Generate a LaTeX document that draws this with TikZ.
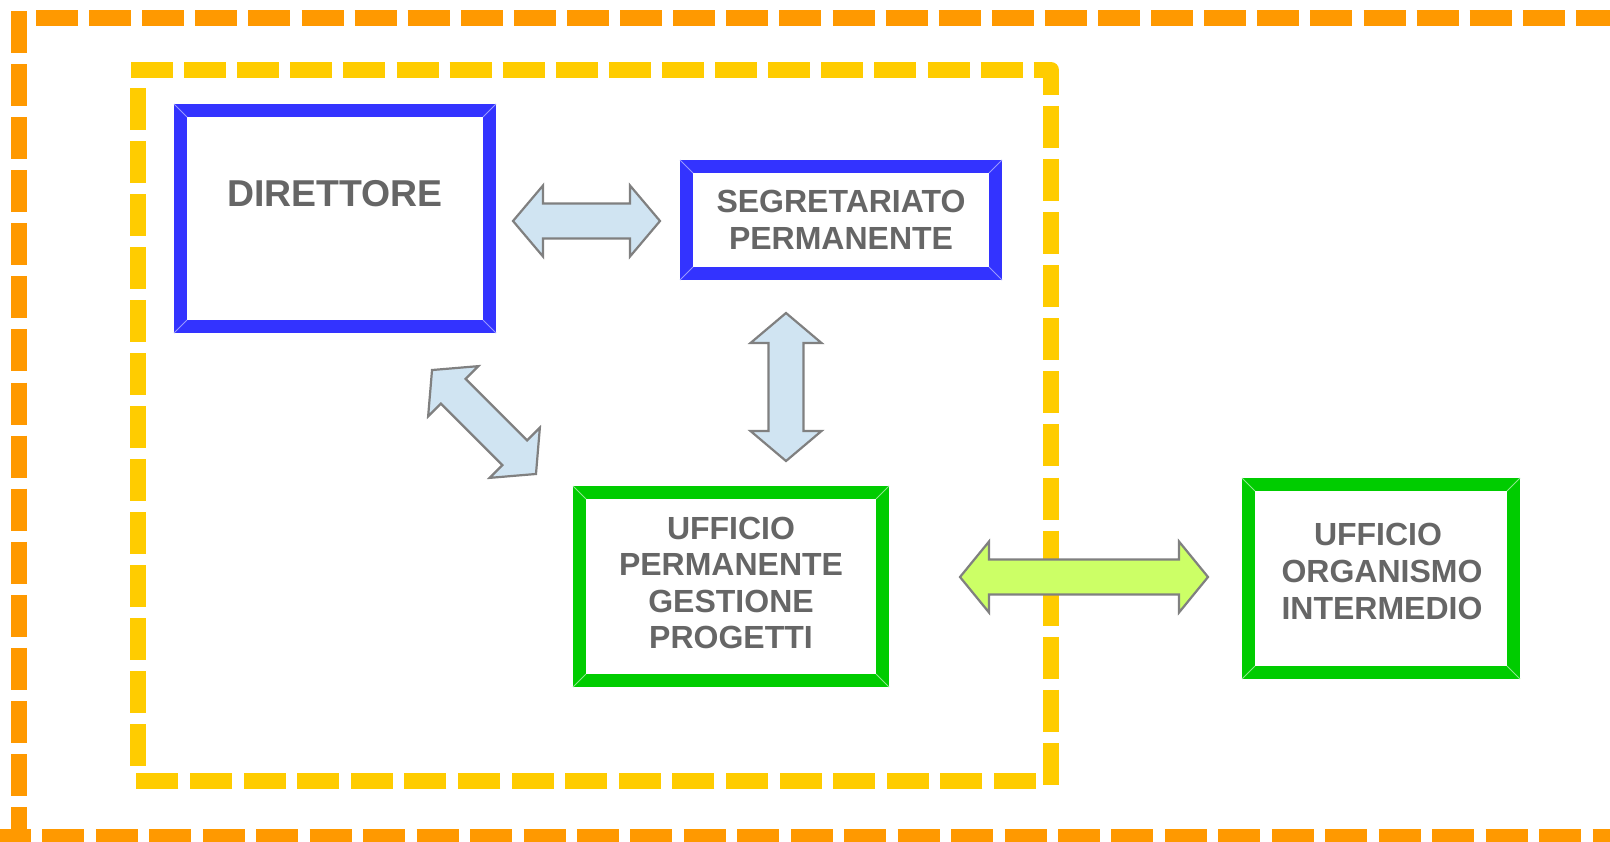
\documentclass[tikz,border=0pt]{standalone}
\usepackage{fontspec}
\setmainfont{Liberation Sans}
\usetikzlibrary{calc}
\definecolor{orangeD}{HTML}{FF9900}
\definecolor{yellowD}{HTML}{FFCC00}
\definecolor{blueB}{HTML}{3333FF}
\definecolor{greenB}{HTML}{00CC00}
\definecolor{txtgray}{HTML}{666666}
\definecolor{arrblue}{HTML}{D0E4F2}
\definecolor{arrgreen}{HTML}{CCFF66}
\definecolor{arredge}{HTML}{808080}
\tikzset{
  orangeline/.style={draw=orangeD, line width=8pt, line cap=butt},
  yellowline/.style={draw=yellowD, line width=8pt, line cap=butt},
  box/.style={draw, line width=6.5pt, fill=white, inner sep=0pt},
  bluebox/.style={box, draw=blueB},
  greenbox/.style={box, draw=greenB},
  bevelblue/.style={draw=blueB!50!white, line width=0.5pt},
  bevelgreen/.style={draw=greenB!45!white, line width=0.5pt},
  lbl/.style={font=\bfseries\fontsize{16pt}{18.3pt}\selectfont, text=txtgray, align=center, inner sep=0pt},
  arrowline/.style={draw=arredge, line width=1.1pt, line join=miter},
  pics/dblarr/.style args={#1/#2/#3}{code={
    \filldraw[arrowline, fill=#3] (-#1,0) -- ({-#1+#2},-35.5) -- ({-#1+#2},-17.5)
      -- ({#1-#2},-17.5) -- ({#1-#2},-35.5) -- (#1,0) -- ({#1-#2},35.5)
      -- ({#1-#2},17.5) -- ({-#1+#2},17.5) -- ({-#1+#2},35.5) -- cycle;
  }}
}
\begin{document}
\begin{tikzpicture}[x=0.5pt, y=-0.5pt]
\useasboundingbox (0,0) rectangle (1610,841);
\fill[white] (0,0) rectangle (1610,841);

% outer orange dashed frame
\begin{scope}
\clip (0,0) rectangle (1610,841);
\draw[orangeline, dash pattern=on 21pt off 5.55pt] (36,18) -- (1630,18);
\draw[orangeline, dash pattern=on 21pt off 5.54pt] (19,11) -- (19,860);
\draw[orangeline, dash pattern=on 21pt off 5.725pt] (-11,837) -- (1630,837);
\end{scope}

% inner yellow dashed frame
\draw[yellowline, line join=round, dash pattern=on 21pt off 5.55pt] (131,70) -- (1051,70) -- (1051,785);
\draw[yellowline, dash pattern=on 21pt off 5.8pt] (1036,781) -- (136,781);
\draw[yellowline, dash pattern=on 21pt off 5.5pt] (138,88) -- (138,767);

% boxes
\node[bluebox, minimum width=154.5pt, minimum height=108pt] (dir) at (335,218.5) {};
\node[bluebox, minimum width=154.5pt, minimum height=53.5pt] (seg) at (841,220) {};
\node[greenbox, minimum width=151.5pt, minimum height=94pt] (upg) at (731,586.5) {};
\node[greenbox, minimum width=132.5pt, minimum height=94pt] (uoi) at (1381,578.5) {};

\foreach \b in {dir,seg}{
  \draw[bevelblue] (\b.north west) -- ++(13,13);
  \draw[bevelblue] (\b.north east) -- ++(-13,13);
  \draw[bevelblue] (\b.south west) -- ++(13,-13);
  \draw[bevelblue] (\b.south east) -- ++(-13,-13);
}
\foreach \b in {upg,uoi}{
  \draw[bevelgreen] (\b.north west) -- ++(13,13);
  \draw[bevelgreen] (\b.north east) -- ++(-13,13);
  \draw[bevelgreen] (\b.south west) -- ++(13,-13);
  \draw[bevelgreen] (\b.south east) -- ++(-13,-13);
}

% labels
\node[lbl, font=\bfseries\fontsize{18.7pt}{22pt}\selectfont, anchor=base] (dirt) at (335,206) {DIRETTORE};
\node[lbl, font=\bfseries\fontsize{16pt}{18.5pt}\selectfont] (segt) at (841,220) {SEGRETARIATO\\PERMANENTE};
\node[lbl] (upgt) at (731,583) {UFFICIO\\PERMANENTE\\GESTIONE\\PROGETTI};
\node[lbl] (uoit) at (1382,571.5) {UFFICIO\hspace*{0.25em}\\ORGANISMO\hspace*{0.25em}\\INTERMEDIO};

% block arrows
\pic (arrDS) at (586.5,221) {dblarr={73.5/30/arrblue}};
\pic[rotate=90] (arrSU) at (786,387) {dblarr={74/30/arrblue}};
\pic[rotate=-45] (arrDU) at (484,422) {dblarr={73.5/30/arrblue}};
\pic (arrUO) at (1084,577) {dblarr={124/29/arrgreen}};
\end{tikzpicture}
\end{document}
